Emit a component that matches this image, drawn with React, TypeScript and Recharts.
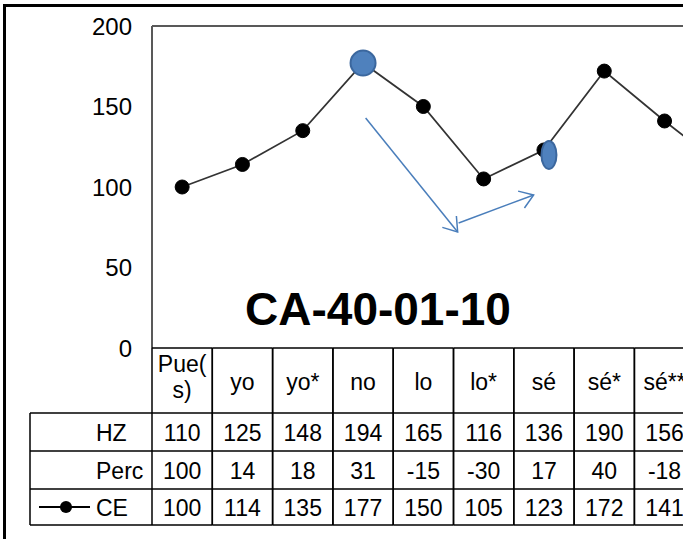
import React from "react";
import { LineChart, Line, XAxis, YAxis, ReferenceDot, ReferenceLine } from "recharts";

const categories = ["Pue(s)", "yo", "yo*", "no", "lo", "lo*", "sé", "sé*", "sé**", ""];
const hzValues = [110, 125, 148, 194, 165, 116, 136, 190, 156, null];
const percValues = [100, 14, 18, 31, -15, -30, 17, 40, -18, null];
const ceValues = [100, 114, 135, 177, 150, 105, 123, 172, 141, 112];
const yTicks = [0, 50, 100, 150, 200];
const rowLabels = ["HZ", "Perc", "CE"];

const data = categories.map((name, i) => ({
  name,
  HZ: hzValues[i],
  Perc: percValues[i],
  CE: ceValues[i],
}));

const FONT = "'Liberation Sans', Arial, sans-serif";
const CHART_W = 755;
const AXIS_W = 152;
const COL = (CHART_W - AXIS_W) / categories.length;
// row boundaries of the data table, measured from the top of the x axis
const ROWS = [0, 65, 103, 141, 177];
const BLUE = "#4a7ebb";

const wrapLabel = (s: string) => (s.length > 5 ? [s.slice(0, 4), s.slice(4)] : [s]);

function TableTick(props: any) {
  const { x, y, payload } = props;
  const i = payload.index ?? categories.indexOf(payload.value);
  const left = x - COL / 2;
  const right = x + COL / 2;
  const lines = wrapLabel(categories[i]);
  const rowVals = [hzValues[i], percValues[i], ceValues[i]];
  const labelLeft = 30;
  return (
    <g fontFamily={FONT} fontSize={23} fill="#000">
      {ROWS.map((r, k) => (
        <line key={"h" + k} x1={left} x2={right} y1={y + r} y2={y + r} stroke="#000" strokeWidth={1.5} />
      ))}
      <line x1={left} x2={left} y1={y} y2={y + ROWS[4]} stroke="#000" strokeWidth={1.5} />
      <line x1={right} x2={right} y1={y} y2={y + ROWS[4]} stroke="#000" strokeWidth={1.5} />
      {lines.length === 1 ? (
        <text x={x} y={y + ROWS[1] / 2 + 9} textAnchor="middle">{lines[0]}</text>
      ) : (
        <>
          <text x={x} y={y + ROWS[1] / 2 - 9} textAnchor="middle">{lines[0]}</text>
          <text x={x} y={y + ROWS[1] / 2 + 17} textAnchor="middle">{lines[1]}</text>
        </>
      )}
      {rowVals.map((v, k) =>
        v == null ? null : (
          <text key={"v" + k} x={x} y={y + (ROWS[k + 1] + ROWS[k + 2]) / 2 + 9} textAnchor="middle">
            {v}
          </text>
        )
      )}
      {i === 0 && (
        <g>
          {ROWS.slice(1).map((r, k) => (
            <line key={"lh" + k} x1={labelLeft} x2={left} y1={y + r} y2={y + r} stroke="#000" strokeWidth={1.5} />
          ))}
          <line x1={labelLeft} x2={labelLeft} y1={y + ROWS[1]} y2={y + ROWS[4]} stroke="#000" strokeWidth={1.5} />
          {rowLabels.map((lab, k) => (
            <text key={"l" + k} x={96} y={y + (ROWS[k + 1] + ROWS[k + 2]) / 2 + 9} textAnchor="start">
              {lab}
            </text>
          ))}
          <line x1={39} x2={90} y1={y + 159} y2={y + 159} stroke="#000" strokeWidth={2} />
          <circle cx={66} cy={y + 159} r={6} fill="#000" />
        </g>
      )}
    </g>
  );
}

const arrow = (x1: number, y1: number, x2: number, y2: number, key: string) => {
  const a = Math.atan2(y2 - y1, x2 - x1);
  const len = 16;
  const spread = 0.6;
  const p1 = [x2 - len * Math.cos(a - spread), y2 - len * Math.sin(a - spread)];
  const p2 = [x2 - len * Math.cos(a + spread), y2 - len * Math.sin(a + spread)];
  return (
    <g key={key} stroke={BLUE} strokeWidth={1.5} fill="none">
      <line x1={x1} y1={y1} x2={x2} y2={y2} />
      <polyline points={`${p1[0]},${p1[1]} ${x2},${y2} ${p2[0]},${p2[1]}`} />
    </g>
  );
};

// arrows drawn relative to the "lo*" point
const ArrowsShape = (props: any) => {
  const { cx, cy } = props;
  return (
    <g>
      {arrow(cx - 118, cy - 61, cx - 26, cy + 53, "a1")}
      {arrow(cx - 25, cy + 44, cx + 50, cy + 16, "a2")}
    </g>
  );
};

const EllipseShape = (props: any) => {
  const { cx, cy } = props;
  return <ellipse cx={cx + 5} cy={cy + 5} rx={7.5} ry={14} fill="#4f81bd" stroke="#3b679e" strokeWidth={2} />;
};

export default function App() {
  return (
    <div style={{ position: "absolute", left: 0, top: 0, width: 683, height: 539, overflow: "hidden", background: "#fff" }}>
      <div
        style={{
          position: "absolute",
          left: 3,
          top: 4,
          width: 760,
          height: 600,
          borderLeft: "3px solid #000",
          borderTop: "3px solid #000",
        }}
      />
      <div style={{ position: "absolute", left: 0, top: 0 }}>
        <LineChart width={CHART_W} height={539} data={data} margin={{ top: 26, right: 0, bottom: 14, left: 0 }}>
          <XAxis
            dataKey="name"
            height={177}
            padding={{ left: COL / 2, right: COL / 2 }}
            interval={0}
            tickLine={false}
            axisLine={false}
            tickSize={0}
            tickMargin={0}
            tick={<TableTick />}
          />
          <YAxis
            width={AXIS_W}
            domain={[0, 200]}
            ticks={yTicks}
            tickLine={false}
            tickSize={0}
            tickMargin={20}
            axisLine={{ stroke: "#595959", strokeWidth: 2 }}
            tick={{ fill: "#000", fontSize: 24, fontFamily: FONT }}
          />
          <ReferenceLine y={200} stroke="#595959" strokeWidth={2} />
          <Line
            dataKey="CE"
            stroke="#333"
            strokeWidth={1.75}
            dot={{ r: 7, fill: "#000", stroke: "#000", strokeWidth: 1 }}
            isAnimationActive={false}
          />
          <ReferenceDot x="no" y={177} r={12.5} fill="#4f81bd" stroke="#3b679e" strokeWidth={2} />
          <ReferenceDot x="sé" y={123} r={8} shape={<EllipseShape />} />
          <ReferenceDot x="lo*" y={105} r={1} shape={<ArrowsShape />} />
        </LineChart>
      </div>
      <svg style={{ position: "absolute", left: 0, top: 0 }} width={683} height={539} pointerEvents="none">
        <text x={378} y={325} textAnchor="middle" fontFamily={FONT} fontWeight="bold" fontSize={46} fill="#000">
          CA-40-01-10
        </text>
      </svg>
    </div>
  );
}
